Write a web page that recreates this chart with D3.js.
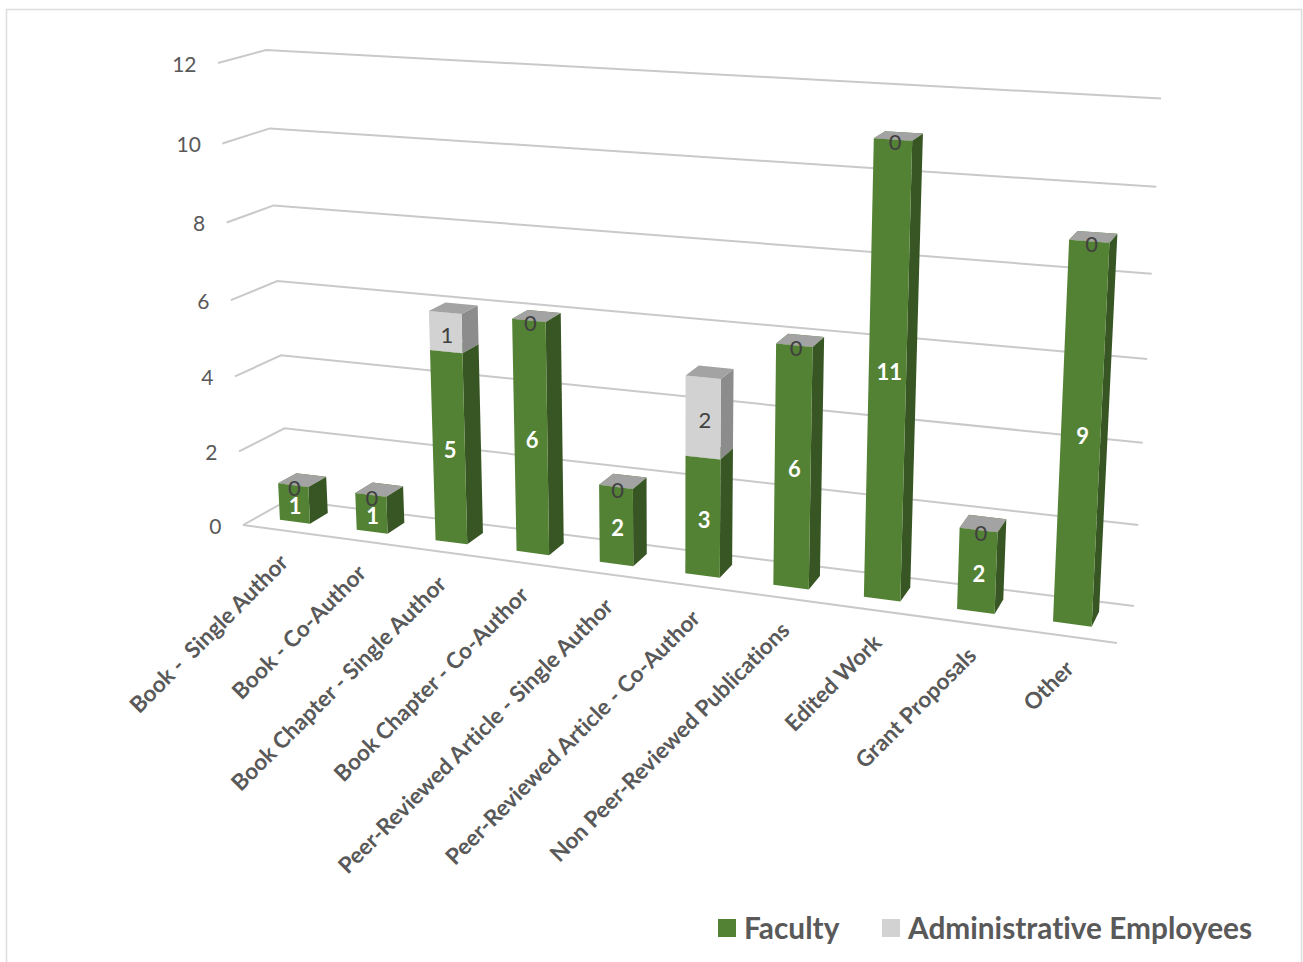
<!DOCTYPE html>
<html><head><meta charset="utf-8">
<script src="https://cdnjs.cloudflare.com/ajax/libs/d3/7.8.5/d3.min.js"></script>
<style>html,body{margin:0;padding:0;background:#fff}svg{display:block}text{font-family:Lato,"Open Sans",sans-serif;font-variant-ligatures:none;white-space:pre}</style>
</head><body><svg id="c" width="1303" height="962"></svg>
<script>
const categories=["Book -  Single Author","Book - Co-Author","Book Chapter - Single Author","Book Chapter - Co-Author","Peer-Reviewed Article - Single Author","Peer-Reviewed Article - Co-Author","Non Peer-Reviewed Publications","Edited Work","Grant Proposals","Other"];
const faculty=[1,1,5,6,2,3,6,11,2,9];
const admin=[0,0,1,0,0,2,0,0,0,0];
const valueTicks=[0,2,4,6,8,10,12];
const seriesNames=["Faculty","Administrative Employees"];

const svg=d3.select("#c");
const band=d3.scaleBand().domain(categories).range([-.001,.999]).paddingInner(.605).paddingOuter(.3025);
const K=1.15,KV=1.055,VMAX=12;
const persp=t=>t/(t+K*(1-t));
const warp=v=>{const s=v/VMAX;return VMAX*s/(s+KV*(1-s));};
const lerp=(a,b,f)=>a+(b-a)*f;
const frontX=d3.scaleLinear().domain([0,1]).range([243,1117]);
const frontY=d3.scaleLinear().domain([0,1]).range([525,643]);
const backX=d3.scaleLinear().domain([0,1]).range([288,1134]);
const backY=d3.scaleLinear().domain([0,1]).range([500,606]);
const kxFront=d3.scaleLinear().domain([0,1]).range([-2.08,2.1]);
const kxBack=d3.scaleLinear().domain([0,1]).range([-1.83,2.25]);
const kyFront=d3.scaleLinear().domain([0,1]).range([38.5,44]);
const kyBack=d3.scaleLinear().domain([0,1]).range([37.5,42.3]);
function P(u,value,d){
  const v=warp(value);
  return [lerp(frontX(u),backX(u),d)+v*lerp(kxFront(u),kxBack(u),d),
          lerp(frontY(u),backY(u),d)-v*lerp(kyFront(u),kyBack(u),d)];
}
const line=d3.line();
const D0=.33,D1=.74;

svg.append("rect").attr("x",6.5).attr("y",9.5).attr("width",1295).attr("height",960).attr("fill","none").attr("stroke","#dcdcdc").attr("stroke-width",1.5);
const gridG=svg.append("g").attr("fill","none").attr("stroke","#c9c9c9").attr("stroke-width",2);
valueTicks.forEach(v=>{
  gridG.append("path").attr("d",line([P(0,v,0),P(0,v,1),P(1,v,1)]));
});
gridG.append("path").attr("d",line([P(0,0,0),P(1,0,0)]));

svg.append("g").selectAll("text").data(valueTicks).join("text")
  .attr("x",v=>P(0,v,0)[0]-21.5).attr("y",v=>P(0,v,0)[1]+8.5)
  .attr("text-anchor","end").attr("font-size",21).attr("fill","#595959").text(v=>v);

const palette={f:["#548235","#375623","#548235"],a:["#d2d2d2","#8c8c8c","#a3a3a3"]};
const barG=svg.append("g");
function box(cat,v0,v1,c){
  const t0=band(cat),t1=t0+band.bandwidth();
  const u0=persp(t0),u1=persp(t1);
  const g=barG.append("g");
  if(v1>v0){
    g.append("path").attr("fill",c[1]).attr("d",line([P(u1,v0,D0),P(u1,v0,D1),P(u1,v1,D1),P(u1,v1,D0)])+"Z");
    g.append("path").attr("fill",c[0]).attr("d",line([P(u0,v0,D0),P(u1,v0,D0),P(u1,v1,D0),P(u0,v1,D0)])+"Z");
  }
  g.append("path").attr("fill",c[2]).attr("d",line([P(u0,v1,D0),P(u1,v1,D0),P(u1,v1,D1),P(u0,v1,D1)])+"Z");
}
categories.forEach((cat,i)=>{
  const f=faculty[i],a=admin[i];
  box(cat,0,f,palette.f);
  box(cat,f,f+a,palette.a);
});
const labels=barG.append("g").attr("text-anchor","middle").attr("font-size",22);
const mid=(uc,a,b)=>{const p=P(uc,a,D0),q=P(uc,b,D0);return [(p[0]+q[0])/2,(p[1]+q[1])/2];};
categories.forEach((cat,i)=>{
  const f=faculty[i],a=admin[i];
  const uc=persp(band(cat)+band.bandwidth()/2);
  const pf=mid(uc,0,f), pa=mid(uc,f,f+a);
  labels.append("text").attr("x",pf[0]+1+uc).attr("y",pf[1]+11).attr("fill","#fff").attr("font-weight",700).text(f);
  labels.append("text").attr("x",pa[0]+1+uc*1.5).attr("y",pa[1]+11).attr("fill","#404040").text(a);
});
svg.append("g").selectAll("text").data(categories).join("text")
  .attr("transform",c=>{const p=P(persp(band(c)+band.bandwidth()/2),0,0);return `translate(${p[0]+3.5},${p[1]+28.5}) rotate(-45)`;})
  .attr("text-anchor","end").attr("dy",".35em").attr("font-size",22.5).attr("font-weight",700).attr("fill","#595959").text(c=>c);
const legend=svg.append("g");
const lx=[718,882],tx=[744,908],cols=[palette.f[0],palette.a[0]];
seriesNames.forEach((n,i)=>{
  legend.append("rect").attr("x",lx[i]).attr("y",919).attr("width",18).attr("height",18).attr("fill",cols[i]);
  legend.append("text").attr("x",tx[i]).attr("y",939).attr("font-size",29.8).attr("font-weight",700).attr("fill","#595959").text(n);
});
</script></body></html>
